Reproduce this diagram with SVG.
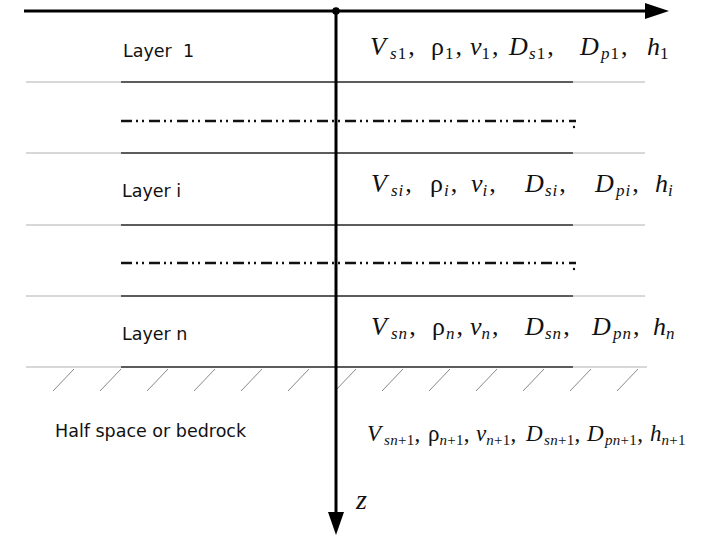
<svg xmlns="http://www.w3.org/2000/svg" width="706" height="541" viewBox="0 0 706 541">
<style>
.bg{fill:#fff}
.thin{stroke:#b0b0b0;stroke-width:1;fill:none}
.dark{stroke:#333;stroke-width:1.6;fill:none}
.dd{stroke:#111;stroke-width:2.6;fill:none;stroke-dasharray:11 4 2 4 2 5}
.hatch{stroke:#888;stroke-width:1;fill:none}
.axis{stroke:#000;stroke-width:3;fill:none}
.lab{font-family:"DejaVu Sans",sans-serif;font-size:17.5px;fill:#111}
.m{font-family:"Liberation Serif","Times New Roman",serif;font-style:italic;font-size:26px;fill:#111}
.g{font-family:"Liberation Serif","Times New Roman",serif;font-style:normal;font-size:26px;fill:#111}
.s{font-family:"Liberation Serif","Times New Roman",serif;font-style:italic;font-size:17px;fill:#111;letter-spacing:1px}
.sn{font-family:"Liberation Serif","Times New Roman",serif;font-style:normal;font-size:17px;fill:#111;letter-spacing:1px}
.h .m,.h .g{font-size:23px}
.h .s,.h .sn{font-size:15px;letter-spacing:0.3px}
.z{font-family:"Liberation Serif","Times New Roman",serif;font-style:italic;font-size:28px;fill:#111}
</style>
<rect class="bg" x="0" y="0" width="706" height="541"/>
<g id="layers">
  <line class="thin" x1="26" y1="82" x2="645" y2="82"/>
  <line class="dark" x1="121" y1="82" x2="573" y2="82"/>
  <line class="dd" x1="121" y1="121" x2="576" y2="121"/>
  <circle cx="574" cy="127" r="1.2" fill="#111"/>
  <line class="thin" x1="26" y1="153" x2="645" y2="153"/>
  <line class="dark" x1="121" y1="153" x2="573" y2="153"/>
  <line class="thin" x1="26" y1="225" x2="645" y2="225"/>
  <line class="dark" x1="121" y1="225" x2="573" y2="225"/>
  <line class="dd" x1="121" y1="263" x2="576" y2="263"/>
  <circle cx="574" cy="269" r="1.2" fill="#111"/>
  <line class="thin" x1="26" y1="296" x2="645" y2="296"/>
  <line class="dark" x1="121" y1="296" x2="573" y2="296"/>
  <line class="thin" x1="26" y1="367" x2="647" y2="367"/>
  <line class="dark" x1="121" y1="367" x2="573" y2="367"/>
  <g id="hatching">
    <path class="hatch" d="M53 391l21 -22M100 391l21 -22M147 391l21 -22M194 391l21 -22M241 391l21 -22M288 391l21 -22M335 391l21 -22M382 391l21 -22M429 391l21 -22M476 391l21 -22M523 391l21 -22M570 391l21 -22M617 391l21 -22"/>
  </g>
</g>
<g id="connectors">
  <line class="axis" x1="24" y1="11" x2="648" y2="11"/>
  <polygon points="645,3 669,11 645,19" fill="#000"/>
  <line class="axis" x1="336" y1="11" x2="336" y2="514"/>
  <polygon points="328,512 344,512 336,535" fill="#000"/>
  <circle cx="336" cy="11" r="3.8" fill="#000"/>
</g>
<g id="layer1">
  <text class="lab" x="123" y="57" xml:space="preserve">Layer  1</text>
  <text y="55"><tspan class="m" x="370">V</tspan><tspan class="s" x="390" dy="4">s</tspan><tspan class="sn">1</tspan><tspan class="g" dx="1" dy="-4">,</tspan><tspan class="g" x="431">ρ</tspan><tspan class="sn" dx="1" dy="4">1</tspan><tspan class="g" dx="1" dy="-4">,</tspan><tspan class="m" x="470">v</tspan><tspan class="sn" dy="4">1</tspan><tspan class="g" dx="1" dy="-4">,</tspan><tspan class="m" x="509">D</tspan><tspan class="s" x="529" dy="4">s</tspan><tspan class="sn">1</tspan><tspan class="g" dx="1" dy="-4">,</tspan><tspan class="m" x="580">D</tspan><tspan class="s" x="601" dy="4">p</tspan><tspan class="sn">1</tspan><tspan class="g" dx="1" dy="-4">,</tspan><tspan class="m" x="647">h</tspan><tspan class="sn" dy="4">1</tspan></text>
</g>
<g id="layeri">
  <text class="lab" x="122" y="197">Layer i</text>
  <text y="192"><tspan class="m" x="371">V</tspan><tspan class="s" x="391" dy="4">si</tspan><tspan class="g" dx="1" dy="-4">,</tspan><tspan class="g" x="430">ρ</tspan><tspan class="s" dx="1" dy="4">i</tspan><tspan class="g" dx="1" dy="-4">,</tspan><tspan class="m" x="471">v</tspan><tspan class="s" dy="4">i</tspan><tspan class="g" dx="1" dy="-4">,</tspan><tspan class="m" x="525">D</tspan><tspan class="s" x="545" dy="4">si</tspan><tspan class="g" dx="1" dy="-4">,</tspan><tspan class="m" x="595">D</tspan><tspan class="s" x="616" dy="4">pi</tspan><tspan class="g" dx="1" dy="-4">,</tspan><tspan class="m" x="655">h</tspan><tspan class="s" dy="4">i</tspan></text>
</g>
<g id="layern">
  <text class="lab" x="122" y="340">Layer n</text>
  <text y="335"><tspan class="m" x="371">V</tspan><tspan class="s" x="391" dy="4">sn</tspan><tspan class="g" dx="1" dy="-4">,</tspan><tspan class="g" x="432">ρ</tspan><tspan class="s" dx="1" dy="4">n</tspan><tspan class="g" dx="1" dy="-4">,</tspan><tspan class="m" x="470">v</tspan><tspan class="s" dy="4">n</tspan><tspan class="g" dx="1" dy="-4">,</tspan><tspan class="m" x="525">D</tspan><tspan class="s" x="545" dy="4">sn</tspan><tspan class="g" dx="1" dy="-4">,</tspan><tspan class="m" x="592">D</tspan><tspan class="s" x="613" dy="4">pn</tspan><tspan class="g" dx="1" dy="-4">,</tspan><tspan class="m" x="653">h</tspan><tspan class="s" dy="4">n</tspan></text>
</g>
<g id="halfspace" class="h">
  <text class="lab" x="55" y="437">Half space or bedrock</text>
  <text y="441"><tspan class="m" x="367">V</tspan><tspan class="s" x="384" dy="4">sn</tspan><tspan class="sn">+1</tspan><tspan class="g" dy="-4">,</tspan><tspan class="g" x="428">ρ</tspan><tspan class="s" dy="4">n</tspan><tspan class="sn">+1</tspan><tspan class="g" dy="-4">,</tspan><tspan class="m" x="476">v</tspan><tspan class="s" dy="4">n</tspan><tspan class="sn">+1</tspan><tspan class="g" dy="-4">,</tspan><tspan class="m" x="526">D</tspan><tspan class="s" x="544" dy="4">sn</tspan><tspan class="sn">+1</tspan><tspan class="g" dy="-4">,</tspan><tspan class="m" x="587">D</tspan><tspan class="s" x="605" dy="4">pn</tspan><tspan class="sn">+1</tspan><tspan class="g" dy="-4">,</tspan><tspan class="m" x="650">h</tspan><tspan class="s" dy="4">n</tspan><tspan class="sn">+1</tspan></text>
</g>
<g id="zlabel">
  <text class="z" x="356" y="509">z</text>
</g>
</svg>
